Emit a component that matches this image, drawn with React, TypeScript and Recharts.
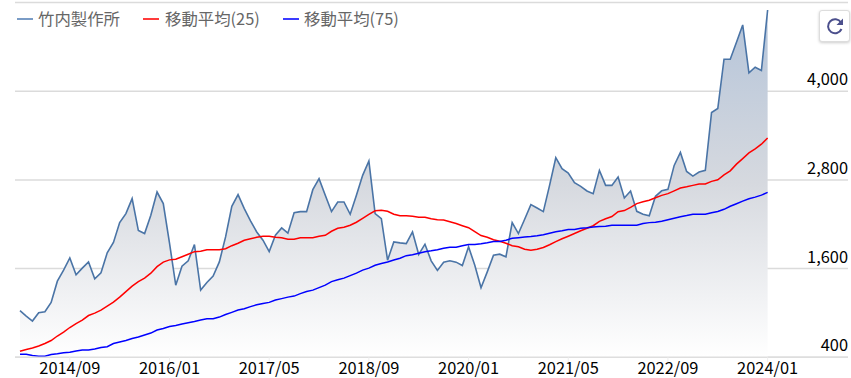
import { Area, CartesianGrid, ComposedChart, Line, XAxis, YAxis } from "recharts"

const FONT = '"Noto Sans CJK JP", "Noto Sans", sans-serif'

// monthly closes, 2014/01 .. 2024/01
const price = [
  1030, 958, 890, 1003, 1016, 1143, 1430, 1579, 1745, 1516, 1606, 1691,
  1462, 1543, 1813, 1953, 2223, 2344, 2547, 2115, 2074, 2322, 2636, 2479,
  1944, 1376, 1633, 1705, 1926, 1309, 1413, 1498, 1691, 2029, 2443, 2601,
  2412, 2245, 2096, 1984, 1831, 2052, 2150, 2079, 2357, 2371, 2371, 2668,
  2817, 2592, 2371, 2501, 2501, 2335, 2592, 2862, 3055, 2344, 2277, 1714,
  1961, 1948, 1939, 2096, 1791, 1930, 1705, 1575, 1687, 1705, 1687, 1642,
  1894, 1646, 1340, 1556, 1781, 1795, 1759, 2223, 2074, 2267, 2466, 2420,
  2371, 2726, 3100, 2952, 2893, 2763, 2713, 2650, 2614, 2929, 2726, 2726,
  2839, 2555, 2650, 2375, 2335, 2315, 2578, 2652, 2672, 2996, 3172, 2915,
  2852, 2906, 2929, 3712, 3766, 4432, 4432, 4661, 4896, 4248, 4324, 4279,
  5098,
]

const ma25 = [
  481, 506, 526, 553, 587, 627, 688, 742, 803, 857, 904, 965,
  998, 1039, 1093, 1147, 1214, 1289, 1363, 1424, 1471, 1538, 1626, 1687,
  1718, 1727, 1761, 1795, 1829, 1835, 1856, 1856, 1856, 1869, 1910, 1943,
  1984, 2004, 2024, 2038, 2038, 2024, 2018, 1997, 1997, 2018, 2018, 2018,
  2038, 2051, 2105, 2146, 2159, 2186, 2227, 2281, 2335, 2382, 2389, 2375,
  2335, 2315, 2315, 2308, 2294, 2294, 2274, 2261, 2258, 2234, 2209, 2180,
  2153, 2099, 2047, 2024, 1991, 1970, 1943, 1910, 1896, 1862, 1849, 1862,
  1885, 1923, 1964, 2004, 2038, 2074, 2112, 2146, 2180, 2240, 2274, 2304,
  2369, 2385, 2429, 2479, 2504, 2524, 2558, 2591, 2614, 2652, 2690, 2706,
  2726, 2744, 2744, 2780, 2801, 2868, 2922, 3013, 3088, 3165, 3219, 3283,
  3368,
]

const ma75 = [
  441, 441, 425, 414, 414, 438, 448, 461, 467, 485, 499, 499,
  512, 533, 544, 587, 607, 627, 654, 674, 701, 728, 769, 789,
  816, 830, 850, 868, 884, 904, 920, 921, 944, 978, 1008, 1039,
  1057, 1086, 1111, 1129, 1143, 1174, 1194, 1214, 1228, 1262, 1289, 1309,
  1343, 1376, 1424, 1448, 1471, 1505, 1538, 1579, 1606, 1646, 1669, 1690,
  1717, 1741, 1775, 1788, 1808, 1829, 1840, 1856, 1876, 1889, 1889, 1910,
  1926, 1927, 1937, 1950, 1965, 1966, 1984, 2011, 2018, 2026, 2034, 2045,
  2058, 2078, 2099, 2112, 2128, 2128, 2146, 2153, 2162, 2168, 2173, 2186,
  2186, 2186, 2186, 2186, 2209, 2222, 2226, 2240, 2261, 2281, 2301, 2317,
  2335, 2335, 2335, 2355, 2373, 2402, 2443, 2477, 2513, 2544, 2567, 2594,
  2632,
]

const xTicks = [8, 24, 40, 56, 72, 88, 104, 120]
const xTickLabels = ["2014/09", "2016/01", "2017/05", "2018/09", "2020/01", "2021/05", "2022/09", "2024/01"]
const yTicks = [400, 1600, 2800, 4000, 5200]

const legendItems = [
  { name: "竹内製作所", color: "#7a9cc6", left: 17, textLeft: 38 },
  { name: "移動平均(25)", color: "#ff3b3b", left: 143, textLeft: 165 },
  { name: "移動平均(75)", color: "#3b3bff", left: 283, textLeft: 304 },
]

const data = price.map((close, i) => ({ i, close, ma25: ma25[i], ma75: ma75[i] }))

function PriceTick({ y, payload }: any) {
  if (payload.value === 5200) return null
  return (
    <text x={848} y={y - 6} textAnchor="end" fontSize={16.4} fontFamily={FONT} fill="#000">
      {payload.value.toLocaleString("en-US")}
    </text>
  )
}

function DateTick({ x, y, payload }: any) {
  return (
    <text x={x} y={y + 10} textAnchor="middle" fontSize={16.4} fontFamily={FONT} fill="#000">
      {xTickLabels[xTicks.indexOf(payload.value)]}
    </text>
  )
}

function RefreshButton() {
  return (
    <div
      style={{
        position: "absolute",
        left: 819,
        top: 10,
        width: 29,
        height: 30,
        background: "#fff",
        border: "1px solid #ddd",
        borderRadius: 3,
        boxShadow: "0 1px 3px rgba(0,0,0,0.2)",
      }}
    >
      <svg width={29} height={30} viewBox="0 0 29 30">
        <path d="M21 11.5 A7 7 0 1 0 21.5 18" fill="none" stroke="#4b4f8c" strokeWidth={2} />
        <path d="M23 7.5 V14 H16.5 Z" fill="#4b4f8c" />
      </svg>
    </div>
  )
}

export default function App() {
  return (
    <div style={{ position: "absolute", left: 0, top: 0, width: 851, height: 378, background: "#fff", overflow: "hidden" }}>
      <ComposedChart width={851} height={378} data={data} margin={{ top: 2.5, right: 3, bottom: 0, left: 15 }}>
        <defs>
          <linearGradient id="priceFill" x1="0" y1="0" x2="0" y2="1">
            <stop offset="0%" stopColor="#b4c4d9" />
            <stop offset="50%" stopColor="#d6d9df" />
            <stop offset="100%" stopColor="#ffffff" />
          </linearGradient>
        </defs>
        <XAxis
          dataKey="i"
          type="number"
          domain={[-0.8, 132.9]}
          ticks={xTicks}
          height={20.7}
          tickSize={5}
          tick={<DateTick />}
          axisLine={{ stroke: "#dedede", strokeWidth: 1.5 }}
          tickLine={{ stroke: "#eeeeee" }}
        />
        <YAxis
          orientation="right"
          mirror
          type="number"
          domain={[400, 5200]}
          ticks={yTicks}
          width={50}
          axisLine={false}
          tickLine={false}
          tick={<PriceTick />}
          interval={0}
        />
        <Area
          dataKey="close"
          type="linear"
          stroke="#4a74a6"
          strokeWidth={1.6}
          fill="url(#priceFill)"
          fillOpacity={1}
          dot={false}
          activeDot={false}
          isAnimationActive={false}
        />
        <CartesianGrid horizontal vertical={false} stroke="#b8b8b8" strokeOpacity={0.5} strokeWidth={1.5} />
        <Line dataKey="ma25" type="linear" stroke="#ff0000" strokeWidth={1.5} dot={false} activeDot={false} isAnimationActive={false} />
        <Line dataKey="ma75" type="linear" stroke="#0000ff" strokeWidth={1.5} dot={false} activeDot={false} isAnimationActive={false} />
      </ComposedChart>
      {legendItems.map((item) => (
        <div key={item.name}>
          <div style={{ position: "absolute", left: item.left, top: 17.5, width: 16, height: 2, background: item.color }} />
          <div style={{ position: "absolute", left: item.textLeft, top: 6, font: `16.4px/24px ${FONT}`, color: "#666", whiteSpace: "nowrap" }}>
            {item.name}
          </div>
        </div>
      ))}
      <RefreshButton />
    </div>
  )
}
